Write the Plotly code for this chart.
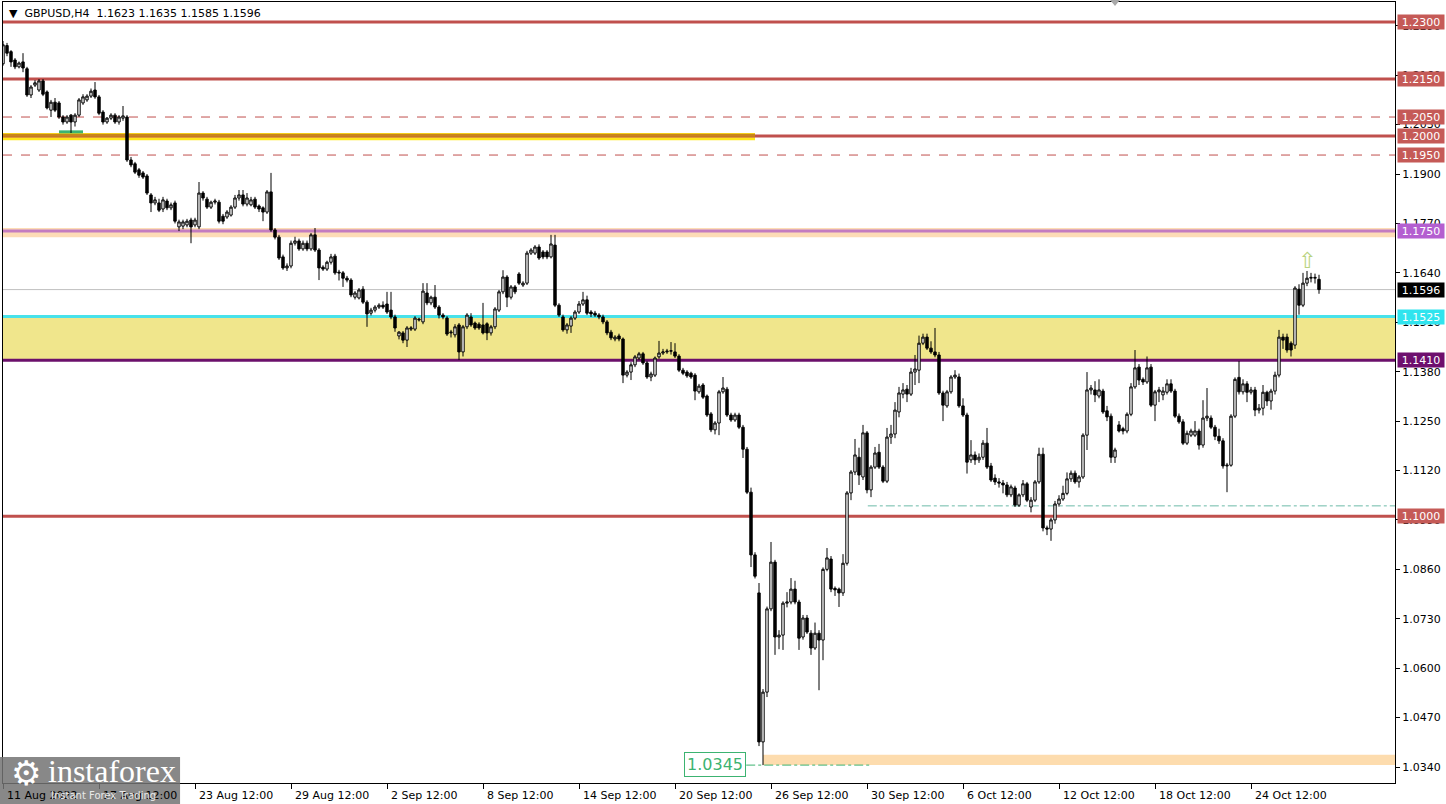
import plotly.graph_objects as go

# ---------------- data (GBPUSD H4, one value per bar) ----------------
bar_open = [
    1.2190, 1.2238, 1.2222, 1.2200, 1.2182, 1.2195, 1.2177, 1.2108, 1.2134, 1.2121,
    1.2145, 1.2116, 1.2068, 1.2089, 1.2087, 1.2050, 1.2037, 1.2055, 1.2037, 1.2055,
    1.2087, 1.2095, 1.2105, 1.2121, 1.2103, 1.2063, 1.2037, 1.2047, 1.2055, 1.2037,
    1.2047, 1.2050, 1.1937, 1.1927, 1.1911, 1.1903, 1.1895, 1.1845, 1.1824, 1.1824,
    1.1808, 1.1829, 1.1811, 1.1824, 1.1761, 1.1763, 1.1766, 1.1779, 1.1766, 1.1761,
    1.1850, 1.1834, 1.1813, 1.1826, 1.1826, 1.1789, 1.1787, 1.1792, 1.1813, 1.1837,
    1.1845, 1.1821, 1.1819, 1.1834, 1.1816, 1.1811, 1.1800, 1.1853, 1.1753, 1.1734,
    1.1682, 1.1653, 1.1658, 1.1718, 1.1724, 1.1703, 1.1718, 1.1703, 1.1740, 1.1700,
    1.1655, 1.1650, 1.1668, 1.1684, 1.1642, 1.1640, 1.1626, 1.1621, 1.1576, 1.1574,
    1.1597, 1.1563, 1.1534, 1.1542, 1.1550, 1.1555, 1.1558, 1.1542, 1.1524, 1.1474,
    1.1482, 1.1463, 1.1492, 1.1492, 1.1516, 1.1511, 1.1587, 1.1561, 1.1576, 1.1550,
    1.1529, 1.1521, 1.1482, 1.1477, 1.1503, 1.1432, 1.1498, 1.1524, 1.1508, 1.1505,
    1.1503, 1.1506, 1.1482, 1.1498, 1.1542, 1.1590, 1.1629, 1.1576, 1.1603, 1.1637,
    1.1608, 1.1613, 1.1692, 1.1692, 1.1708, 1.1695, 1.1695, 1.1682, 1.1713, 1.1555,
    1.1524, 1.1490, 1.1500, 1.1521, 1.1537, 1.1558, 1.1569, 1.1537, 1.1534, 1.1529,
    1.1524, 1.1511, 1.1484, 1.1466, 1.1474, 1.1466, 1.1371, 1.1379, 1.1398, 1.1416,
    1.1427, 1.1403, 1.1366, 1.1371, 1.1419, 1.1429, 1.1432, 1.1434, 1.1432, 1.1421,
    1.1384, 1.1379, 1.1376, 1.1371, 1.1327, 1.1345, 1.1316, 1.1269, 1.1227, 1.1245,
    1.1327, 1.1334, 1.1266, 1.1253, 1.1266, 1.1234, 1.1176, 1.1063, 1.0898, 1.0798,
    1.0406, 1.0537, 1.0756, 1.0879, 1.0682, 1.0687, 1.0771, 1.0774, 1.0808, 1.0774,
    1.0682, 1.0732, 1.0692, 1.0653, 1.0692, 1.0674, 1.0860, 1.0887, 1.0810, 1.0808,
    1.0798, 1.0876, 1.1061, 1.1116, 1.1155, 1.1103, 1.1219, 1.1069, 1.1129, 1.1168,
    1.1129, 1.1092, 1.1208, 1.1216, 1.1274, 1.1321, 1.1334, 1.1321, 1.1379, 1.1384,
    1.1455, 1.1471, 1.1442, 1.1432, 1.1424, 1.1324, 1.1290, 1.1327, 1.1366, 1.1366,
    1.1290, 1.1266, 1.1148, 1.1161, 1.1148, 1.1155, 1.1192, 1.1132, 1.1100, 1.1090,
    1.1087, 1.1082, 1.1056, 1.1074, 1.1029, 1.1056, 1.1085, 1.1024, 1.1042, 1.1090,
    1.1163, 1.0969, 1.0966, 1.0990, 1.1032, 1.1045, 1.1060, 1.1098, 1.1113, 1.1090,
    1.1103, 1.1213, 1.1332, 1.1332, 1.1316, 1.1329, 1.1277, 1.1263, 1.1155, 1.1240,
    1.1230, 1.1224, 1.1268, 1.1340, 1.1392, 1.1360, 1.1353, 1.1392, 1.1292, 1.1327,
    1.1319, 1.1326, 1.1348, 1.1329, 1.1263, 1.1248, 1.1192, 1.1213, 1.1213, 1.1224,
    1.1187, 1.1258, 1.1258, 1.1234, 1.1210, 1.1198, 1.1132, 1.1134, 1.1263, 1.1365,
    1.1327, 1.1348, 1.1326, 1.1332, 1.1279, 1.1284, 1.1326, 1.1303, 1.1329, 1.1371,
    1.1471, 1.1471, 1.1455, 1.1450, 1.1597, 1.1555, 1.1613, 1.1626, 1.1626, 1.1623,
]
bar_high = [
    1.2250, 1.2245, 1.2226, 1.2205, 1.2196, 1.2218, 1.2182, 1.2134, 1.2147, 1.2150,
    1.2150, 1.2120, 1.2095, 1.2100, 1.2092, 1.2055, 1.2055, 1.2058, 1.2060, 1.2100,
    1.2110, 1.2110, 1.2125, 1.2142, 1.2108, 1.2068, 1.2050, 1.2060, 1.2060, 1.2055,
    1.2079, 1.2055, 1.1945, 1.1932, 1.1916, 1.1908, 1.1900, 1.1850, 1.1840, 1.1835,
    1.1840, 1.1835, 1.1825, 1.1830, 1.1780, 1.1780, 1.1782, 1.1785, 1.1785, 1.1879,
    1.1855, 1.1840, 1.1830, 1.1835, 1.1832, 1.1795, 1.1805, 1.1818, 1.1845, 1.1858,
    1.1858, 1.1850, 1.1840, 1.1840, 1.1820, 1.1815, 1.1858, 1.1903, 1.1758, 1.1740,
    1.1688, 1.1665, 1.1725, 1.1735, 1.1730, 1.1725, 1.1725, 1.1745, 1.1758, 1.1705,
    1.1660, 1.1672, 1.1690, 1.1690, 1.1648, 1.1645, 1.1632, 1.1626, 1.1592, 1.1600,
    1.1605, 1.1568, 1.1548, 1.1555, 1.1560, 1.1565, 1.1590, 1.1590, 1.1530, 1.1487,
    1.1487, 1.1500, 1.1500, 1.1526, 1.1522, 1.1613, 1.1613, 1.1580, 1.1608, 1.1555,
    1.1534, 1.1526, 1.1490, 1.1505, 1.1508, 1.1503, 1.1534, 1.1534, 1.1512, 1.1510,
    1.1561, 1.1510, 1.1503, 1.1550, 1.1595, 1.1647, 1.1634, 1.1608, 1.1608, 1.1642,
    1.1618, 1.1698, 1.1705, 1.1713, 1.1715, 1.1700, 1.1700, 1.1740, 1.1740, 1.1560,
    1.1530, 1.1508, 1.1526, 1.1542, 1.1566, 1.1590, 1.1580, 1.1542, 1.1540, 1.1534,
    1.1530, 1.1516, 1.1490, 1.1476, 1.1480, 1.1470, 1.1384, 1.1405, 1.1424, 1.1432,
    1.1432, 1.1408, 1.1380, 1.1420, 1.1461, 1.1440, 1.1440, 1.1458, 1.1455, 1.1426,
    1.1390, 1.1384, 1.1380, 1.1376, 1.1348, 1.1350, 1.1320, 1.1274, 1.1250, 1.1332,
    1.1366, 1.1340, 1.1272, 1.1272, 1.1272, 1.1240, 1.1182, 1.1075, 1.0905, 1.0824,
    1.0545, 1.0762, 1.0932, 1.0885, 1.0700, 1.0776, 1.0800, 1.0837, 1.0830, 1.0780,
    1.0740, 1.0740, 1.0700, 1.0720, 1.0700, 1.0865, 1.0916, 1.0895, 1.0815, 1.0812,
    1.0900, 1.1066, 1.1121, 1.1203, 1.1180, 1.1240, 1.1224, 1.1134, 1.1182, 1.1190,
    1.1134, 1.1232, 1.1240, 1.1300, 1.1340, 1.1350, 1.1345, 1.1390, 1.1424, 1.1475,
    1.1480, 1.1480, 1.1460, 1.1495, 1.1432, 1.1330, 1.1332, 1.1371, 1.1384, 1.1375,
    1.1310, 1.1272, 1.1200, 1.1170, 1.1165, 1.1200, 1.1232, 1.1140, 1.1110, 1.1100,
    1.1095, 1.1090, 1.1083, 1.1080, 1.1060, 1.1095, 1.1090, 1.1050, 1.1095, 1.1180,
    1.1180, 1.0975, 1.0995, 1.1040, 1.1055, 1.1080, 1.1115, 1.1120, 1.1120, 1.1108,
    1.1218, 1.1379, 1.1345, 1.1355, 1.1360, 1.1335, 1.1290, 1.1270, 1.1180, 1.1250,
    1.1235, 1.1273, 1.1350, 1.1437, 1.1400, 1.1365, 1.1420, 1.1400, 1.1332, 1.1340,
    1.1340, 1.1360, 1.1360, 1.1335, 1.1270, 1.1255, 1.1225, 1.1230, 1.1250, 1.1230,
    1.1305, 1.1337, 1.1265, 1.1240, 1.1230, 1.1205, 1.1140, 1.1268, 1.1365, 1.1408,
    1.1360, 1.1355, 1.1340, 1.1340, 1.1295, 1.1345, 1.1330, 1.1335, 1.1380, 1.1490,
    1.1480, 1.1480, 1.1460, 1.1605, 1.1610, 1.1640, 1.1645, 1.1640, 1.1638, 1.1635,
]
bar_low = [
    1.2185, 1.2210, 1.2182, 1.2176, 1.2178, 1.2168, 1.2103, 1.2100, 1.2129, 1.2116,
    1.2105, 1.2070, 1.2050, 1.2063, 1.2045, 1.2030, 1.2032, 1.2008, 1.2025, 1.2050,
    1.2082, 1.2090, 1.2100, 1.2098, 1.2055, 1.2030, 1.2032, 1.2042, 1.2032, 1.2030,
    1.2040, 1.1932, 1.1918, 1.1900, 1.1890, 1.1887, 1.1845, 1.1800, 1.1818, 1.1800,
    1.1800, 1.1805, 1.1805, 1.1770, 1.1750, 1.1755, 1.1760, 1.1718, 1.1760, 1.1755,
    1.1830, 1.1808, 1.1808, 1.1820, 1.1770, 1.1768, 1.1782, 1.1788, 1.1808, 1.1830,
    1.1815, 1.1815, 1.1815, 1.1808, 1.1800, 1.1776, 1.1795, 1.1748, 1.1728, 1.1674,
    1.1648, 1.1645, 1.1652, 1.1712, 1.1698, 1.1698, 1.1697, 1.1698, 1.1695, 1.1621,
    1.1645, 1.1645, 1.1662, 1.1635, 1.1620, 1.1603, 1.1615, 1.1576, 1.1570, 1.1570,
    1.1558, 1.1498, 1.1528, 1.1536, 1.1545, 1.1545, 1.1532, 1.1518, 1.1485, 1.1465,
    1.1455, 1.1445, 1.1487, 1.1487, 1.1512, 1.1505, 1.1555, 1.1555, 1.1545, 1.1520,
    1.1518, 1.1474, 1.1470, 1.1470, 1.1411, 1.1420, 1.1492, 1.1498, 1.1490, 1.1490,
    1.1478, 1.1463, 1.1475, 1.1492, 1.1537, 1.1584, 1.1550, 1.1570, 1.1584, 1.1608,
    1.1603, 1.1608, 1.1687, 1.1687, 1.1674, 1.1676, 1.1676, 1.1678, 1.1550, 1.1524,
    1.1485, 1.1480, 1.1482, 1.1516, 1.1532, 1.1553, 1.1529, 1.1524, 1.1524, 1.1518,
    1.1505, 1.1476, 1.1463, 1.1460, 1.1460, 1.1350, 1.1365, 1.1358, 1.1392, 1.1411,
    1.1398, 1.1361, 1.1355, 1.1366, 1.1414, 1.1424, 1.1427, 1.1425, 1.1416, 1.1379,
    1.1371, 1.1364, 1.1361, 1.1305, 1.1322, 1.1308, 1.1261, 1.1221, 1.1215, 1.1213,
    1.1322, 1.1261, 1.1248, 1.1248, 1.1229, 1.1153, 1.1058, 1.0866, 1.0836, 1.0395,
    1.0345, 1.0524, 1.0750, 1.0635, 1.0650, 1.0648, 1.0760, 1.0768, 1.0768, 1.0648,
    1.0675, 1.0690, 1.0635, 1.0648, 1.0542, 1.0621, 1.0855, 1.0800, 1.0790, 1.0761,
    1.0790, 1.0870, 1.1042, 1.1108, 1.1082, 1.1095, 1.1060, 1.1050, 1.1124, 1.1124,
    1.1087, 1.1087, 1.1190, 1.1205, 1.1260, 1.1310, 1.1300, 1.1316, 1.1345, 1.1350,
    1.1450, 1.1437, 1.1427, 1.1418, 1.1319, 1.1250, 1.1285, 1.1322, 1.1361, 1.1285,
    1.1261, 1.1112, 1.1140, 1.1135, 1.1140, 1.1148, 1.1124, 1.1090, 1.1082, 1.1075,
    1.1060, 1.1050, 1.1050, 1.1024, 1.1024, 1.1050, 1.1037, 1.1010, 1.1037, 1.1085,
    1.0960, 1.0950, 1.0935, 1.0980, 1.1025, 1.1040, 1.1055, 1.1090, 1.1085, 1.1075,
    1.1098, 1.1174, 1.1320, 1.1300, 1.1310, 1.1269, 1.1250, 1.1140, 1.1140, 1.1220,
    1.1215, 1.1218, 1.1263, 1.1335, 1.1345, 1.1345, 1.1348, 1.1287, 1.1250, 1.1300,
    1.1305, 1.1320, 1.1324, 1.1258, 1.1243, 1.1187, 1.1187, 1.1208, 1.1208, 1.1175,
    1.1180, 1.1250, 1.1229, 1.1200, 1.1190, 1.1125, 1.1063, 1.1130, 1.1258, 1.1320,
    1.1320, 1.1300, 1.1320, 1.1263, 1.1270, 1.1265, 1.1290, 1.1280, 1.1320, 1.1365,
    1.1440, 1.1430, 1.1420, 1.1440, 1.1530, 1.1550, 1.1605, 1.1615, 1.1612, 1.1585,
]
bar_close = [
    1.2240, 1.2218, 1.2195, 1.2182, 1.2192, 1.2179, 1.2108, 1.2129, 1.2140, 1.2145,
    1.2110, 1.2074, 1.2089, 1.2068, 1.2050, 1.2037, 1.2050, 1.2037, 1.2055, 1.2095,
    1.2103, 1.2105, 1.2118, 1.2103, 1.2060, 1.2037, 1.2047, 1.2055, 1.2037, 1.2050,
    1.2053, 1.1937, 1.1924, 1.1905, 1.1897, 1.1892, 1.1850, 1.1824, 1.1832, 1.1805,
    1.1832, 1.1811, 1.1819, 1.1776, 1.1774, 1.1774, 1.1776, 1.1761, 1.1779, 1.1850,
    1.1837, 1.1813, 1.1826, 1.1829, 1.1776, 1.1776, 1.1800, 1.1813, 1.1837, 1.1845,
    1.1821, 1.1837, 1.1832, 1.1813, 1.1808, 1.1800, 1.1853, 1.1753, 1.1734, 1.1679,
    1.1653, 1.1658, 1.1718, 1.1724, 1.1703, 1.1718, 1.1703, 1.1740, 1.1700, 1.1653,
    1.1650, 1.1668, 1.1682, 1.1640, 1.1640, 1.1626, 1.1621, 1.1582, 1.1587, 1.1595,
    1.1563, 1.1532, 1.1542, 1.1550, 1.1555, 1.1550, 1.1537, 1.1524, 1.1495, 1.1484,
    1.1463, 1.1495, 1.1495, 1.1521, 1.1518, 1.1592, 1.1561, 1.1576, 1.1550, 1.1529,
    1.1524, 1.1479, 1.1484, 1.1498, 1.1432, 1.1498, 1.1529, 1.1503, 1.1495, 1.1495,
    1.1482, 1.1482, 1.1498, 1.1545, 1.1590, 1.1629, 1.1576, 1.1603, 1.1590, 1.1613,
    1.1613, 1.1692, 1.1700, 1.1708, 1.1679, 1.1682, 1.1682, 1.1716, 1.1555, 1.1529,
    1.1490, 1.1503, 1.1521, 1.1537, 1.1558, 1.1569, 1.1534, 1.1532, 1.1529, 1.1524,
    1.1511, 1.1482, 1.1469, 1.1471, 1.1466, 1.1371, 1.1379, 1.1398, 1.1419, 1.1427,
    1.1403, 1.1366, 1.1374, 1.1416, 1.1429, 1.1432, 1.1434, 1.1435, 1.1421, 1.1384,
    1.1376, 1.1369, 1.1366, 1.1329, 1.1342, 1.1313, 1.1266, 1.1227, 1.1245, 1.1327,
    1.1337, 1.1266, 1.1253, 1.1266, 1.1234, 1.1176, 1.1063, 1.0898, 1.0842, 1.0406,
    1.0537, 1.0756, 1.0879, 1.0682, 1.0687, 1.0771, 1.0774, 1.0808, 1.0774, 1.0679,
    1.0732, 1.0695, 1.0653, 1.0692, 1.0674, 1.0860, 1.0890, 1.0808, 1.0806, 1.0798,
    1.0876, 1.1061, 1.1116, 1.1161, 1.1108, 1.1219, 1.1069, 1.1129, 1.1166, 1.1129,
    1.1092, 1.1208, 1.1216, 1.1279, 1.1324, 1.1332, 1.1321, 1.1379, 1.1387, 1.1455,
    1.1471, 1.1442, 1.1432, 1.1424, 1.1324, 1.1292, 1.1327, 1.1366, 1.1371, 1.1290,
    1.1266, 1.1142, 1.1161, 1.1148, 1.1155, 1.1192, 1.1129, 1.1095, 1.1090, 1.1087,
    1.1082, 1.1056, 1.1077, 1.1029, 1.1056, 1.1085, 1.1042, 1.1042, 1.1090, 1.1163,
    1.0969, 1.0966, 1.0990, 1.1032, 1.1045, 1.1060, 1.1098, 1.1113, 1.1090, 1.1103,
    1.1213, 1.1332, 1.1337, 1.1319, 1.1332, 1.1274, 1.1261, 1.1155, 1.1174, 1.1224,
    1.1224, 1.1268, 1.1340, 1.1390, 1.1358, 1.1353, 1.1390, 1.1292, 1.1327, 1.1332,
    1.1329, 1.1348, 1.1329, 1.1263, 1.1248, 1.1192, 1.1218, 1.1224, 1.1224, 1.1187,
    1.1258, 1.1263, 1.1234, 1.1210, 1.1198, 1.1132, 1.1134, 1.1263, 1.1360, 1.1327,
    1.1348, 1.1326, 1.1332, 1.1279, 1.1284, 1.1326, 1.1303, 1.1329, 1.1371, 1.1471,
    1.1463, 1.1437, 1.1437, 1.1600, 1.1555, 1.1613, 1.1626, 1.1628, 1.1628, 1.1596,
]
bar_index = list(range(len(bar_close)))

# time-axis labels (one every 24 H4 bars)
x_tick_index = [0, 24, 48, 72, 96, 120, 144, 168, 192, 216, 240, 264, 288, 312]
x_tick_text = ["11 Aug 2022", "17 Aug 12:00", "23 Aug 12:00", "29 Aug 12:00",
               "2 Sep 12:00", "8 Sep 12:00", "14 Sep 12:00", "20 Sep 12:00",
               "26 Sep 12:00", "30 Sep 12:00", "6 Oct 12:00", "12 Oct 12:00",
               "18 Oct 12:00", "24 Oct 12:00"]

# price-axis ticks
y_tick_vals = [1.0340, 1.0470, 1.0600, 1.0730, 1.0860, 1.0990, 1.1120, 1.1250,
               1.1380, 1.1510, 1.1640, 1.1770, 1.1900, 1.2030, 1.2160, 1.2290]

# horizontal levels
solid_levels = [1.2300, 1.2150, 1.2000, 1.1000]
dashed_levels = [1.2050, 1.1950]
resistance_level = 1.1750
zone_top, zone_bottom = 1.1525, 1.1410
last_price = 1.1596
swing_low = 1.0345
support_dashdot = 1.1027

# right-hand price labels: (price, text, background)
level_labels = [
    (1.2300, "1.2300", "#c55a57"), (1.2150, "1.2150", "#c55a57"),
    (1.2050, "1.2050", "#c55a57"), (1.2000, "1.2000", "#c55a57"),
    (1.1950, "1.1950", "#c55a57"), (1.1750, "1.1750", "#b45fd0"),
    (1.1596, "1.1596", "#000000"), (1.1525, "1.1525", "#30e4ee"),
    (1.1410, "1.1410", "#6e0f6e"), (1.1000, "1.1000", "#c55a57"),
]

# ---------------- figure ----------------
RED = "#c0504d"
FONT = "DejaVu Sans"
Y_MIN, Y_MAX = 1.029790, 1.235262
X_MIN, X_MAX = 0.0, 348.0

fig = go.Figure()
fig.add_trace(go.Candlestick(
    x=bar_index, open=bar_open, high=bar_high, low=bar_low, close=bar_close,
    increasing=dict(line=dict(color="black", width=1), fillcolor="white"),
    decreasing=dict(line=dict(color="black", width=1), fillcolor="black"),
    whiskerwidth=0, hoverinfo="skip", showlegend=False,
))

shapes = []
def hline(y, color, width, dash="solid", x0=X_MIN, x1=X_MAX):
    shapes.append(dict(type="line", xref="x", yref="y", x0=x0, x1=x1, y0=y, y1=y,
                       line=dict(color=color, width=width, dash=dash), layer="below"))

def band(y0, y1, color, x0=X_MIN, x1=X_MAX):
    shapes.append(dict(type="rect", xref="x", yref="y", x0=x0, x1=x1, y0=y0, y1=y1,
                       fillcolor=color, line=dict(width=0), layer="below"))

# zones
band(zone_bottom, zone_top, "#f0e68c")
band(1.1734, 1.1758, "#fddcb6")
band(1.0345, 1.0372, "#fddcae", x0=190)
band(1.1989, 1.2008, "#ffe61a", x0=X_MIN, x1=188)

# lines
for lv in solid_levels:
    hline(lv, RED, 3)
for lv in dashed_levels:
    hline(lv, RED, 1, dash="dash")
hline(1.2002, "#c98518", 3, x0=X_MIN, x1=188)
hline(1.2011, "#3cb371", 3, x0=14, x1=20)
hline(resistance_level, "#c47cc0", 3)
hline(last_price, "#c0c0c0", 1)
hline(zone_top, "#48e2ea", 3)
hline(zone_bottom, "#6b106b", 3)
hline(support_dashdot, "#6dbba8", 1, dash="dashdot", x0=216.2)
hline(swing_low, "#3cb371", 1, dash="dashdot", x0=185.8, x1=216.8)

# logo backdrop (paper coords, drawn on top)
shapes.append(dict(type="rect", xref="paper", yref="paper",
                   x0=-0.003, x1=0.1272, y0=-0.03, y1=0.0333,
                   fillcolor="rgba(115,115,115,0.85)", line=dict(width=0), layer="above"))
# chart-shift marker at top
shapes.append(dict(type="path", xref="paper", yref="paper",
                   path="M 0.7953 1.0026 L 0.8024 1.0026 L 0.79885 0.9949 Z",
                   fillcolor="#a8a8a8", line=dict(width=0), layer="above"))

annotations = []
# x-axis labels, left-aligned at their tick
for xi, txt in zip(x_tick_index, x_tick_text):
    annotations.append(dict(x=xi + 0.5, y=0, xref="x", yref="paper", text=txt,
                            showarrow=False, xanchor="left", yanchor="top", yshift=-4,
                            font=dict(family=FONT, size=11, color="black")))
# right-hand level labels
for price, txt, bg in level_labels:
    annotations.append(dict(x=1, y=price, xref="paper", yref="y", text=txt,
                            showarrow=False, xanchor="left", yanchor="middle", xshift=2,
                            bgcolor=bg, borderpad=1, width=44, height=12, align="center",
                            font=dict(family=FONT, size=11, color="white")))
# title
annotations.append(dict(x=0, y=1, xref="paper", yref="paper",
                        text="\u25bc  GBPUSD,H4  1.1623 1.1635 1.1585 1.1596",
                        showarrow=False, xanchor="left", yanchor="top", xshift=4, yshift=-3,
                        font=dict(family=FONT, size=11, color="black")))
# swing-low label
annotations.append(dict(x=185.8, y=1.03478, xref="x", yref="y", text="1.0345",
                        showarrow=False, xanchor="right", yanchor="middle",
                        bgcolor="white", bordercolor="#3cb371", borderwidth=1, borderpad=2,
                        font=dict(family=FONT, size=16, color="#3cb371")))
# breakout arrow
annotations.append(dict(x=326, y=1.1673, xref="x", yref="y", text="\u21e7",
                        showarrow=False, xanchor="center", yanchor="middle",
                        font=dict(family=FONT, size=22, color="#b9d37f")))
# logo text
annotations.append(dict(x=0.004, y=0.0, xref="paper", yref="paper", text="\u2699",
                        showarrow=False, xanchor="left", yanchor="middle", yshift=10,
                        font=dict(family=FONT, size=34, color="white")))
annotations.append(dict(x=0.031, y=0.0, xref="paper", yref="paper", text="instaforex",
                        showarrow=False, xanchor="left", yanchor="middle", yshift=12,
                        font=dict(family="Liberation Sans Narrow", size=32, color="white")))
annotations.append(dict(x=0.033, y=0.0, xref="paper", yref="paper", text="Instant Forex Trading",
                        showarrow=False, xanchor="left", yanchor="middle", yshift=-12,
                        font=dict(family=FONT, size=10, color="#e8e8e8")))

fig.update_layout(
    width=1446, height=804,
    margin=dict(l=3, r=51, t=2, b=21),
    paper_bgcolor="white", plot_bgcolor="white",
    boxgap=0.4, boxgroupgap=0,
    shapes=shapes, annotations=annotations,
    showlegend=False, hovermode=False,
    xaxis=dict(range=[X_MIN, X_MAX], showgrid=False, zeroline=False,
               showline=True, mirror=True, linecolor="black", linewidth=1,
               ticks="outside", ticklen=5, tickcolor="black",
               tickvals=x_tick_index, showticklabels=False,
               rangeslider=dict(visible=False), fixedrange=True),
    yaxis=dict(range=[Y_MIN, Y_MAX], side="right", showgrid=False, zeroline=False,
               showline=True, mirror=True, linecolor="black", linewidth=1,
               ticks="outside", ticklen=4, tickcolor="black",
               tickvals=y_tick_vals, ticktext=[f"{v:.4f}" for v in y_tick_vals],
               tickfont=dict(family=FONT, size=11, color="black"), fixedrange=True),
)

fig.write_html(
    "out.html",
    config={"displayModeBar": False, "staticPlot": True},
    post_script="document.body.style.margin='0';document.body.style.overflow='hidden';",
)
